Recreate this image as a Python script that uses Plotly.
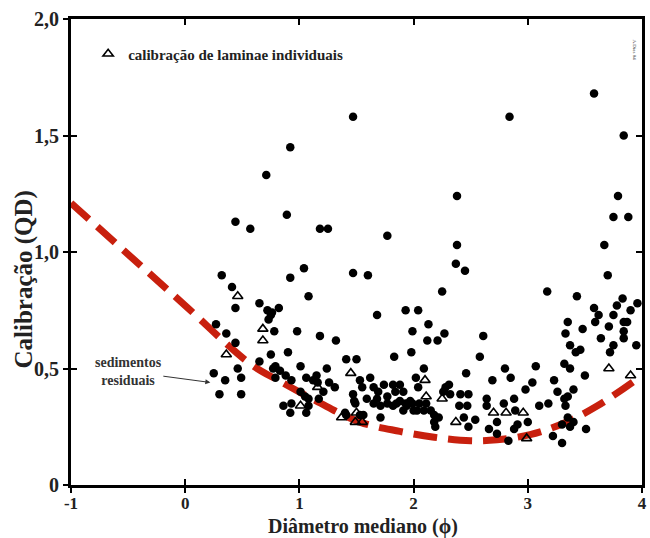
import plotly.graph_objects as go

# filled circles (median diameter phi, sorting QD)
circ_x = [0.44,0.57,0.32,0.41,0.44,0.27,0.36,0.44,0.46,0.49,0.25,0.35,0.30,0.49,
          0.71,0.92,0.89,1.18,1.25,1.47,1.77,0.92,1.04,1.08,1.47,1.60,0.65,0.72,0.76,0.82,
          0.75,0.73,0.78,0.98,1.18,1.32,1.68,1.93,1.99,0.90,0.75,1.98,1.83,1.41,1.50,0.65,
          0.79,1.01,1.24,0.79,0.88,0.93,1.06,1.15,1.12,1.26,1.31,1.53,1.62,1.55,1.65,1.74,
          1.69,1.82,1.88,1.84,1.91,1.01,1.05,1.08,1.17,1.47,1.49,1.59,1.68,1.77,1.71,0.86,
          0.93,0.92,1.06,1.08,1.40,1.56,1.71,1.88,1.94,1.99,1.82,1.91,
          2.38,2.38,2.37,2.45,2.84,3.58,3.84,3.79,3.75,3.88,3.67,3.70,2.25,2.04,2.13,2.27,
          2.12,2.21,2.61,2.58,2.09,2.46,2.02,2.28,2.31,2.04,2.69,2.80,2.85,3.07,3.04,2.98,
          3.17,3.43,3.35,3.48,3.33,3.37,3.42,3.46,3.58,3.62,3.59,3.83,3.78,3.75,3.84,3.87,
          3.90,3.96,3.71,3.84,3.84,3.64,3.75,3.72,3.95,3.32,3.37,3.50,3.23,3.26,3.40,3.35,
          3.32,3.33,3.35,3.18,3.10,3.30,3.22,2.44,2.48,2.54,2.64,2.83,2.18,2.22,2.19,3.30,
          3.37,3.51,3.40,2.41,2.48,2.40,2.47,2.64,2.79,2.88,2.89,2.73,2.66,2.73,2.88,2.91,
          3.00,2.26,2.32,2.05,2.11,2.09,2.03,2.15,2.18,1.93,1.97,1.85,2.00,1.77,1.65,1.48,
          1.53,1.41,1.16,1.21,0.83,0.77]
circ_y = [1.13,1.10,0.90,0.85,0.76,0.69,0.65,0.61,0.50,0.46,0.48,0.45,0.39,0.39,
          1.33,1.45,1.16,1.10,1.10,1.58,1.07,0.89,0.93,0.81,0.91,0.90,0.78,0.75,0.74,0.76,
          0.73,0.71,0.66,0.66,0.64,0.62,0.73,0.75,0.66,0.57,0.56,0.57,0.55,0.54,0.54,0.53,
          0.51,0.51,0.50,0.46,0.47,0.45,0.46,0.47,0.45,0.44,0.42,0.45,0.46,0.42,0.42,0.43,
          0.40,0.43,0.43,0.40,0.40,0.40,0.38,0.37,0.37,0.39,0.35,0.37,0.37,0.38,0.34,0.34,
          0.35,0.31,0.31,0.34,0.31,0.30,0.29,0.36,0.34,0.35,0.34,0.32,
          1.24,1.03,0.95,0.92,1.58,1.68,1.50,1.24,1.15,1.15,1.03,0.90,0.83,0.75,0.69,0.65,
          0.62,0.62,0.64,0.55,0.50,0.48,0.46,0.42,0.43,0.42,0.45,0.50,0.46,0.51,0.44,0.41,
          0.83,0.81,0.70,0.67,0.65,0.60,0.57,0.58,0.76,0.73,0.70,0.80,0.77,0.73,0.70,0.70,
          0.75,0.78,0.68,0.66,0.63,0.63,0.60,0.57,0.60,0.52,0.50,0.47,0.45,0.40,0.41,0.38,
          0.37,0.34,0.29,0.35,0.34,0.18,0.21,0.29,0.25,0.28,0.34,0.19,0.27,0.29,0.25,0.26,
          0.25,0.24,0.27,0.39,0.39,0.34,0.34,0.37,0.35,0.37,0.32,0.27,0.24,0.22,0.24,0.26,
          0.27,0.40,0.39,0.35,0.35,0.32,0.32,0.32,0.30,0.35,0.36,0.35,0.32,0.35,0.35,0.36,
          0.30,0.30,0.44,0.40,0.49,0.50]

# open triangles: individual laminae
tri_x = [0.46,0.36,0.68,0.68,1.45,1.16,1.01,1.37,1.49,1.50,1.55,2.10,2.11,2.25,2.70,2.81,2.96,2.37,2.99,3.71,3.90]
tri_y = [0.81,0.56,0.67,0.62,0.48,0.42,0.34,0.29,0.27,0.31,0.27,0.45,0.38,0.37,0.31,0.31,0.31,0.27,0.20,0.50,0.47]

# residual sediment boundary (dashed red curve)
curve_x = [-1.0,-0.5,0.0,0.57,0.83,1.15,1.53,1.88,2.18,2.50,2.73,3.02,3.32,3.61,4.0]
curve_y = [1.21,0.99,0.77,0.52,0.445,0.36,0.27,0.23,0.205,0.19,0.194,0.216,0.266,0.34,0.47]

x_ticks = [-1,0,1,2,3,4]
x_ticklabels = ["-1","0","1","2","3","4"]
y_ticks = [0,0.5,1.0,1.5,2.0]
y_ticklabels = ["0","0,5","1,0","1,5","2,0"]

SERIF = "Liberation Serif, Times New Roman, serif"
BOLD = dict(family=SERIF, color="#222", weight="bold")

fig = go.Figure()
fig.add_trace(go.Scatter(x=curve_x, y=curve_y, mode="lines", line_shape="spline",
                         line=dict(color="#c8200e", width=7, dash="24px,11px"),
                         showlegend=False, hoverinfo="skip"))
fig.add_trace(go.Scatter(x=circ_x, y=circ_y, mode="markers",
                         marker=dict(symbol="circle", size=8.5, color="black"),
                         showlegend=False))
fig.add_trace(go.Scatter(x=tri_x, y=tri_y, mode="markers",
                         name="calibração de laminae individuais",
                         marker=dict(symbol="triangle-up-open", size=9, color="black",
                                     line=dict(width=1.6, color="black")),
                         showlegend=True))
# overlay axes to give crossing tick marks
fig.add_trace(go.Scatter(x=[None], y=[None], xaxis="x2", yaxis="y2", showlegend=False))

axis_common = dict(showgrid=False, zeroline=False, showline=True, linewidth=3,
                   linecolor="black", mirror=True, ticks="outside", ticklen=5,
                   tickwidth=1.5, tickcolor="black")

fig.update_layout(
    width=650, height=538,
    margin=dict(l=71, r=3, t=19, b=53),
    paper_bgcolor="white", plot_bgcolor="white",
    xaxis=dict(range=[-1, 4], tickvals=x_ticks, ticktext=x_ticklabels,
               tickfont=dict(size=17, **BOLD), ticklabelstandoff=-4, **axis_common),
    yaxis=dict(range=[0, 2], tickvals=y_ticks, ticktext=y_ticklabels,
               tickfont=dict(size=20, **BOLD), **axis_common),
    xaxis2=dict(overlaying="x", matches="x", range=[-1, 4], tickvals=x_ticks,
                showticklabels=False, ticks="inside", ticklen=6, tickwidth=1.5,
                tickcolor="black", mirror="allticks", showline=False, showgrid=False,
                zeroline=False, anchor="y2"),
    yaxis2=dict(overlaying="y", matches="y", range=[0, 2], tickvals=y_ticks,
                showticklabels=False, ticks="inside", ticklen=6, tickwidth=1.5,
                tickcolor="black", mirror="allticks", showline=False, showgrid=False,
                zeroline=False, anchor="x2"),
    legend=dict(x=0.03, y=0.925, xanchor="left", yanchor="middle",
                bgcolor="rgba(0,0,0,0)", itemwidth=30,
                font=dict(size=15, **BOLD)),
    annotations=[
        dict(x=0.511, y=-0.088, xref="paper", yref="paper", text="Diâmetro mediano (ϕ)",
             showarrow=False, xanchor="center", yanchor="middle",
             font=dict(size=20, **BOLD)),
        dict(x=-0.083, y=0.44, xref="paper", yref="paper", text="Calibração (QD)",
             showarrow=False, textangle=-90, xanchor="center", yanchor="middle",
             font=dict(size=25, **BOLD)),
        dict(x=0.22, y=0.44, xref="x", yref="y", text="sedimentos<br>residuais",
             showarrow=True, arrowhead=2, arrowsize=1, arrowwidth=1, arrowcolor="#333",
             ax=-82, ay=-11, font=dict(size=14, family=SERIF, color="#333", weight="bold")),
        dict(x=0.995, y=0.96, xref="paper", yref="paper", text="A.Dias 04",
             showarrow=False, textangle=90, font=dict(size=5, family=SERIF, color="#333")),
    ],
)

fig.write_html("out.html")
